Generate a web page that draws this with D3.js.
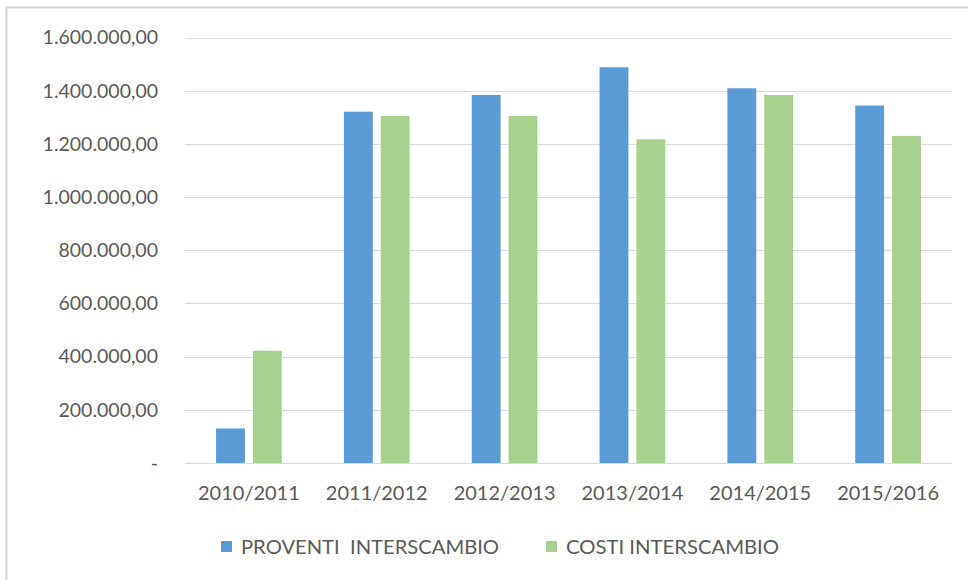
<!DOCTYPE html>
<html>
<head>
<meta charset="utf-8">
<script src="https://cdn.jsdelivr.net/npm/d3@7"></script>
<style>
  body { margin: 0; background: #fff; }
  text { font-family: Lato, "Open Sans", sans-serif; fill: #595959; }
</style>
</head>
<body>
<div id="chart"></div>
<script>
const years = ["2010/2011", "2011/2012", "2012/2013", "2013/2014", "2014/2015", "2015/2016"]
const seriesNames = ["PROVENTI  INTERSCAMBIO", "COSTI INTERSCAMBIO"]
const proventi = [130000, 1321000, 1384000, 1488000, 1409000, 1344000]
const costi = [422000, 1305000, 1305000, 1217000, 1384000, 1230000]
const yTicks = [0, 200000, 400000, 600000, 800000, 1000000, 1200000, 1400000, 1600000]
const colors = ["#5B9BD5", "#A9D18E"]

const W = 968, H = 580
const margin = {top: 37.5, right: 16, bottom: 117, left: 185}

let svg = d3.select("#chart")
            .append("svg")
            .attr("width", W)
            .attr("height", H)

// chart frame (only top and left edges are visible in the picture)
svg.append("path")
   .attr("d", "M6.5," + H + "V7.5H" + W)
   .attr("fill", "none")
   .attr("stroke", "#D4D4D4")
   .attr("stroke-width", 2)

let x0 = d3.scaleBand()
           .domain(years)
           .range([margin.left, W - margin.right])

let x1 = d3.scaleBand()
           .domain(seriesNames)
           .range([x0.bandwidth() * 0.243, x0.bandwidth() * 0.757])
           .paddingInner(8 / 37)

let y = d3.scaleLinear()
          .domain([0, 1600000])
          .range([H - margin.bottom, margin.top])

const it = d3.formatLocale({decimal: ",", thousands: ".", grouping: [3], currency: ["", ""]})
const fmt = it.format(",.2f")

// gridlines
svg.append("g")
   .selectAll("line")
   .data(yTicks)
   .join("line")
   .attr("x1", margin.left)
   .attr("x2", W - margin.right)
   .attr("y1", d => Math.round(y(d)) + 0.5)
   .attr("y2", d => Math.round(y(d)) + 0.5)
   .attr("stroke", "#D9D9D9")
   .attr("stroke-width", 1)

// y labels
svg.append("g")
   .selectAll("text")
   .data(yTicks)
   .join("text")
   .attr("x", 158)
   .attr("y", d => y(d))
   .attr("dy", "0.35em")
   .attr("text-anchor", "end")
   .style("font-size", "19.5px")
   .text(d => d === 0 ? "-" : fmt(d))

// bars
const seriesData = [proventi, costi]
let groups = svg.append("g")
                .selectAll("g")
                .data(years)
                .join("g")
                .attr("transform", d => "translate(" + x0(d) + ",0)")

groups.selectAll("rect")
      .data((d, i) => seriesNames.map((s, j) => ({s: s, v: seriesData[j][i], c: colors[j]})))
      .join("rect")
      .attr("x", d => x1(d.s))
      .attr("width", x1.bandwidth())
      .attr("y", d => y(d.v))
      .attr("height", d => y(0) - y(d.v))
      .attr("fill", d => d.c)

// x labels
svg.append("g")
   .selectAll("text")
   .data(years)
   .join("text")
   .attr("x", d => x0(d) + x0.bandwidth() / 2)
   .attr("y", 493)
   .attr("dy", "0.35em")
   .attr("text-anchor", "middle")
   .style("font-size", "20px")
   .text(d => d)

// legend
const legendX = [221, 546]
const legendW = [258, 213]
let legend = svg.append("g")
                .selectAll("g")
                .data(seriesNames)
                .join("g")
                .attr("transform", (d, i) => "translate(" + legendX[i] + ",547)")

legend.append("rect")
      .attr("x", 0)
      .attr("y", -6)
      .attr("width", 11)
      .attr("height", 11)
      .attr("fill", (d, i) => colors[i])

legend.append("text")
      .attr("x", 20)
      .attr("dy", "0.35em")
      .style("font-size", "19px")
      .style("white-space", "pre")
      .attr("textLength", (d, i) => legendW[i])
      .attr("lengthAdjust", "spacingAndGlyphs")
      .text(d => d)
</script>
</body>
</html>
